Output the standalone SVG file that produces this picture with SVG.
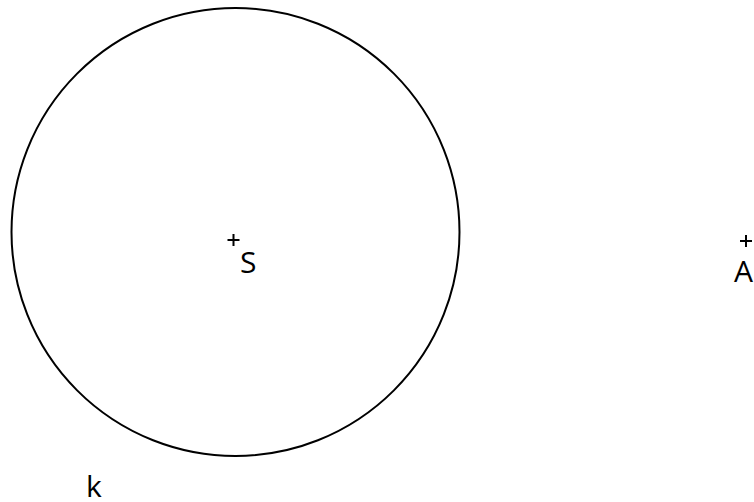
<svg xmlns="http://www.w3.org/2000/svg" width="754" height="502" viewBox="0 0 754 502">
  <style>
    .lbl { font-family: "Open Sans", "Noto Sans", sans-serif; font-size: 30px; fill: #000; }
    .pt { stroke: #000; stroke-width: 2; fill: none; }
  </style>
  <rect width="754" height="502" fill="#fff"/>
  <g id="circle-k">
    <circle cx="235.5" cy="232" r="224" fill="none" stroke="#000" stroke-width="2"/>
    <text class="lbl" x="86" y="497">k</text>
  </g>
  <g id="point-S">
    <path class="pt" d="M227.5 240H239.5M233.5 234V246"/>
    <text class="lbl" x="240" y="273">S</text>
  </g>
  <g id="point-A">
    <path class="pt" d="M740 241H752M746 235V247"/>
    <text class="lbl" x="734" y="282">A</text>
  </g>
  <g id="connectors"/>
</svg>
